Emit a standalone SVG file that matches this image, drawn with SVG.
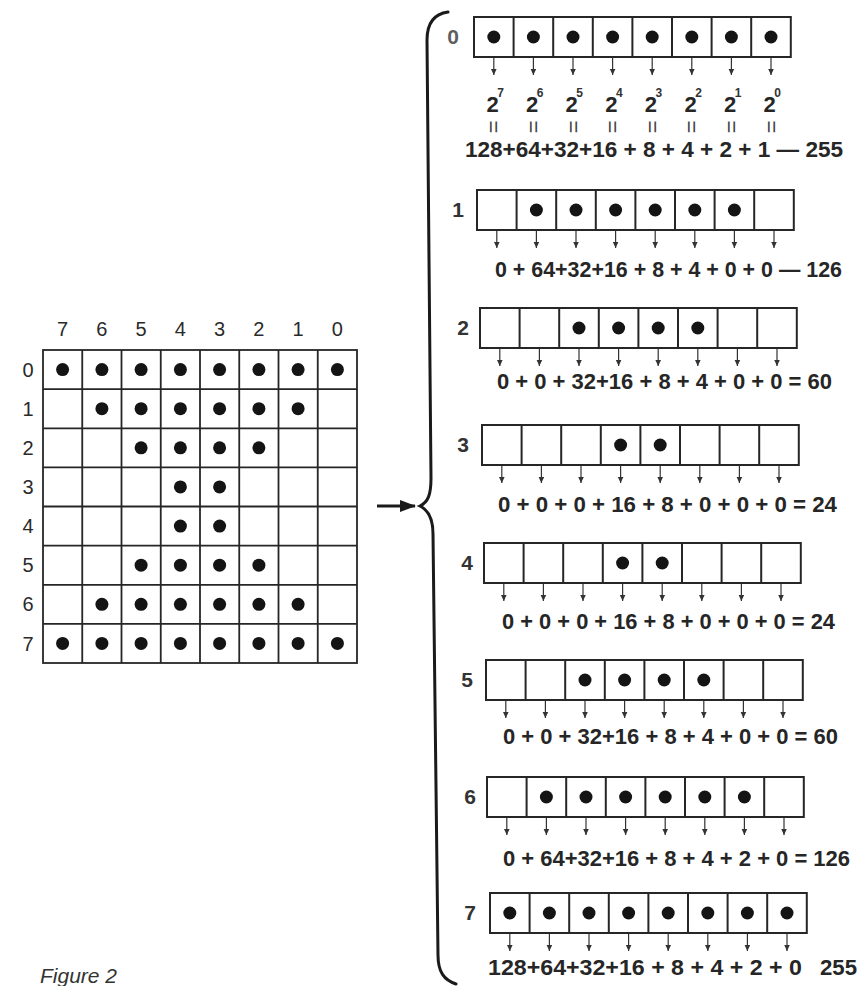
<svg xmlns="http://www.w3.org/2000/svg" width="859" height="986" viewBox="0 0 859 986">
<style>
.ln{stroke:#262626;stroke-width:1.8;fill:none}
.bx{stroke:#262626;stroke-width:2;fill:none}
.lbl{font-family:"Liberation Sans",Arial,sans-serif;font-size:20px;fill:#2a2a2a;text-anchor:middle}
.rl{font-family:"Liberation Sans",Arial,sans-serif;font-size:21px;font-weight:bold;fill:#333;text-anchor:middle}
.sum{font-family:"Liberation Sans",Arial,sans-serif;font-size:22px;font-weight:bold;fill:#262626}
.pw{font-family:"Liberation Sans",Arial,sans-serif;font-size:22px;font-weight:bold;fill:#262626;text-anchor:middle}
.sup{font-family:"Liberation Sans",Arial,sans-serif;font-size:12px;font-weight:bold;fill:#333;text-anchor:middle}
.eq{font-family:"Liberation Sans",Arial,sans-serif;font-size:22px;fill:#444;text-anchor:middle;dominant-baseline:central}
.arr{stroke:#333;stroke-width:1.2;fill:none;marker-end:url(#ah)}
.brace{stroke:#1a1a1a;stroke-width:3;fill:none;stroke-linecap:round}
.cap{font-family:"Liberation Sans",Arial,sans-serif;font-size:21px;font-style:italic;fill:#333}
</style>
<defs>
<marker id="ah" markerUnits="userSpaceOnUse" markerWidth="8" markerHeight="8" refX="6" refY="4" orient="auto"><path d="M0 1.2L6 4L0 6.8Z" fill="#333"/></marker>
<marker id="bah" markerUnits="userSpaceOnUse" markerWidth="18" markerHeight="14" refX="15" refY="7" orient="auto"><path d="M0 1L16 7L0 13Z" fill="#1a1a1a"/></marker>
<circle id="dot" r="6.5" fill="#141414"/>
<g id="box"><rect x="0" y="0" width="316.8" height="40" class="bx"/><path class="bx" d="M39.6 0V40M79.2 0V40M118.8 0V40M158.4 0V40M198 0V40M237.6 0V40M277.2 0V40"/></g>
<g id="arrows8"><path class="arr" d="M19.8 41V58"/><path class="arr" d="M59.4 41V58"/><path class="arr" d="M99 41V58"/><path class="arr" d="M138.6 41V58"/><path class="arr" d="M178.2 41V58"/><path class="arr" d="M217.8 41V58"/><path class="arr" d="M257.4 41V58"/><path class="arr" d="M297 41V58"/></g>
</defs>
<rect width="859" height="986" fill="#ffffff"/>

<g id="matrix">
<g id="matrix-labels">
<text class="lbl" x="62.6" y="336">7</text><text class="lbl" x="101.9" y="336">6</text><text class="lbl" x="141.1" y="336">5</text><text class="lbl" x="180.4" y="336">4</text><text class="lbl" x="219.6" y="336">3</text><text class="lbl" x="258.9" y="336">2</text><text class="lbl" x="298.1" y="336">1</text><text class="lbl" x="337.4" y="336">0</text>
<text class="lbl" x="28" y="377">0</text><text class="lbl" x="28" y="416">1</text><text class="lbl" x="28" y="455">2</text><text class="lbl" x="28" y="494">3</text><text class="lbl" x="28" y="533">4</text><text class="lbl" x="28" y="572">5</text><text class="lbl" x="28" y="611">6</text><text class="lbl" x="28" y="651">7</text>
</g>
<rect class="ln" x="43" y="350" width="314" height="313"/>
<path class="ln" d="M82.25 350V663M121.5 350V663M160.75 350V663M200 350V663M239.25 350V663M278.5 350V663M317.75 350V663M43 389.1H357M43 428.3H357M43 467.4H357M43 506.5H357M43 545.6H357M43 584.8H357M43 623.9H357"/>
<g id="matrix-dots">
<use href="#dot" x="62.6" y="369.6"/><use href="#dot" x="101.9" y="369.6"/><use href="#dot" x="141.1" y="369.6"/><use href="#dot" x="180.4" y="369.6"/><use href="#dot" x="219.6" y="369.6"/><use href="#dot" x="258.9" y="369.6"/><use href="#dot" x="298.1" y="369.6"/><use href="#dot" x="337.4" y="369.6"/>
<use href="#dot" x="101.9" y="408.7"/><use href="#dot" x="141.1" y="408.7"/><use href="#dot" x="180.4" y="408.7"/><use href="#dot" x="219.6" y="408.7"/><use href="#dot" x="258.9" y="408.7"/><use href="#dot" x="298.1" y="408.7"/>
<use href="#dot" x="141.1" y="447.8"/><use href="#dot" x="180.4" y="447.8"/><use href="#dot" x="219.6" y="447.8"/><use href="#dot" x="258.9" y="447.8"/>
<use href="#dot" x="180.4" y="486.9"/><use href="#dot" x="219.6" y="486.9"/>
<use href="#dot" x="180.4" y="526.1"/><use href="#dot" x="219.6" y="526.1"/>
<use href="#dot" x="141.1" y="565.2"/><use href="#dot" x="180.4" y="565.2"/><use href="#dot" x="219.6" y="565.2"/><use href="#dot" x="258.9" y="565.2"/>
<use href="#dot" x="101.9" y="604.3"/><use href="#dot" x="141.1" y="604.3"/><use href="#dot" x="180.4" y="604.3"/><use href="#dot" x="219.6" y="604.3"/><use href="#dot" x="258.9" y="604.3"/><use href="#dot" x="298.1" y="604.3"/>
<use href="#dot" x="62.6" y="643.4"/><use href="#dot" x="101.9" y="643.4"/><use href="#dot" x="141.1" y="643.4"/><use href="#dot" x="180.4" y="643.4"/><use href="#dot" x="219.6" y="643.4"/><use href="#dot" x="258.9" y="643.4"/><use href="#dot" x="298.1" y="643.4"/><use href="#dot" x="337.4" y="643.4"/>
</g>
</g>

<g id="row0" transform="translate(474,17)">
<text class="rl" x="-21" y="27" fill-opacity="0.8">0</text>
<use href="#box"/>
<use href="#dot" x="19.8" y="20"/><use href="#dot" x="59.4" y="20"/><use href="#dot" x="99" y="20"/><use href="#dot" x="138.6" y="20"/><use href="#dot" x="178.2" y="20"/><use href="#dot" x="217.8" y="20"/><use href="#dot" x="257.4" y="20"/><use href="#dot" x="297" y="20"/>
</g>
<g id="row0-powers">
<text class="pw" x="492.5" y="112">2</text><text class="sup" x="500.5" y="97">7</text>
<text class="pw" x="532.1" y="112">2</text><text class="sup" x="540.1" y="97">6</text>
<text class="pw" x="571.7" y="112">2</text><text class="sup" x="579.7" y="97">5</text>
<text class="pw" x="611.3" y="112">2</text><text class="sup" x="619.3" y="97">4</text>
<text class="pw" x="650.9" y="112">2</text><text class="sup" x="658.9" y="97">3</text>
<text class="pw" x="690.5" y="112">2</text><text class="sup" x="698.5" y="97">2</text>
<text class="pw" x="730.1" y="112">2</text><text class="sup" x="738.1" y="97">1</text>
<text class="pw" x="769.7" y="112">2</text><text class="sup" x="777.7" y="97">0</text>
<text class="eq" transform="translate(493.8,127) rotate(90)">=</text>
<text class="eq" transform="translate(533.4,127) rotate(90)">=</text>
<text class="eq" transform="translate(573,127) rotate(90)">=</text>
<text class="eq" transform="translate(612.6,127) rotate(90)">=</text>
<text class="eq" transform="translate(652.2,127) rotate(90)">=</text>
<text class="eq" transform="translate(691.8,127) rotate(90)">=</text>
<text class="eq" transform="translate(731.4,127) rotate(90)">=</text>
<text class="eq" transform="translate(771,127) rotate(90)">=</text>
</g>
<text class="sum" x="465" y="157" textLength="378" lengthAdjust="spacingAndGlyphs">128+64+32+16 + 8 + 4 + 2 + 1 — 255</text>

<g id="row1" transform="translate(477,190)">
<text class="rl" x="-19" y="27">1</text>
<use href="#box"/>
<use href="#dot" x="59.4" y="20"/><use href="#dot" x="99" y="20"/><use href="#dot" x="138.6" y="20"/><use href="#dot" x="178.2" y="20"/><use href="#dot" x="217.8" y="20"/><use href="#dot" x="257.4" y="20"/>
</g>
<text class="sum" x="495" y="277" textLength="347" lengthAdjust="spacingAndGlyphs">0 + 64+32+16 + 8 + 4 + 0 + 0 — 126</text>

<g id="row2" transform="translate(480,308)">
<text class="rl" x="-17" y="27">2</text>
<use href="#box"/>
<use href="#dot" x="99" y="20"/><use href="#dot" x="138.6" y="20"/><use href="#dot" x="178.2" y="20"/><use href="#dot" x="217.8" y="20"/>
</g>
<text class="sum" x="497" y="389" textLength="335" lengthAdjust="spacingAndGlyphs">0 + 0 + 32+16 + 8 + 4 + 0 + 0 = 60</text>

<g id="row3" transform="translate(482,425)">
<text class="rl" x="-19" y="27">3</text>
<use href="#box"/>
<use href="#dot" x="138.6" y="20"/><use href="#dot" x="178.2" y="20"/>
</g>
<text class="sum" x="498" y="512" textLength="339" lengthAdjust="spacingAndGlyphs">0 + 0 + 0 + 16 + 8 + 0 + 0 + 0 = 24</text>

<g id="row4" transform="translate(484,543)">
<text class="rl" x="-17" y="27">4</text>
<use href="#box"/>
<use href="#dot" x="138.6" y="20"/><use href="#dot" x="178.2" y="20"/>
</g>
<text class="sum" x="502" y="629" textLength="333" lengthAdjust="spacingAndGlyphs">0 + 0 + 0 + 16 + 8 + 0 + 0 + 0 = 24</text>

<g id="row5" transform="translate(486,660)">
<text class="rl" x="-19" y="27">5</text>
<use href="#box"/>
<use href="#dot" x="99" y="20"/><use href="#dot" x="138.6" y="20"/><use href="#dot" x="178.2" y="20"/><use href="#dot" x="217.8" y="20"/>
</g>
<text class="sum" x="503" y="744" textLength="335" lengthAdjust="spacingAndGlyphs">0 + 0 + 32+16 + 8 + 4 + 0 + 0 = 60</text>

<g id="row6" transform="translate(487,777)">
<text class="rl" x="-17" y="27">6</text>
<use href="#box"/>
<use href="#dot" x="59.4" y="20"/><use href="#dot" x="99" y="20"/><use href="#dot" x="138.6" y="20"/><use href="#dot" x="178.2" y="20"/><use href="#dot" x="217.8" y="20"/><use href="#dot" x="257.4" y="20"/>
</g>
<text class="sum" x="503" y="866" textLength="347" lengthAdjust="spacingAndGlyphs">0 + 64+32+16 + 8 + 4 + 2 + 0 = 126</text>

<g id="row7" transform="translate(490,893)">
<text class="rl" x="-20" y="27">7</text>
<use href="#box"/>
<use href="#dot" x="19.8" y="20"/><use href="#dot" x="59.4" y="20"/><use href="#dot" x="99" y="20"/><use href="#dot" x="138.6" y="20"/><use href="#dot" x="178.2" y="20"/><use href="#dot" x="217.8" y="20"/><use href="#dot" x="257.4" y="20"/><use href="#dot" x="297" y="20"/>
</g>
<text class="sum" x="488" y="975" textLength="314" lengthAdjust="spacingAndGlyphs">128+64+32+16 + 8 + 4 + 2 + 0</text>
<text class="sum" x="820" y="975" textLength="37" lengthAdjust="spacingAndGlyphs">255</text>

<g id="connectors">
<use href="#arrows8" x="474" y="17"/>
<use href="#arrows8" x="477" y="190"/>
<use href="#arrows8" x="480" y="308"/>
<use href="#arrows8" x="482" y="425"/>
<use href="#arrows8" x="484" y="543"/>
<use href="#arrows8" x="486" y="660"/>
<use href="#arrows8" x="487" y="777"/>
<use href="#arrows8" x="490" y="893"/>
<path d="M377 506H415" stroke="#1a1a1a" stroke-width="3" marker-end="url(#bah)"/>
<path class="brace" d="M448 12C433 14 427 24 427 40L431 478C431 495 428 502 420 506C428 510 433 518 433 534L438 955C438 972 444 980 456 984"/>
</g>

<text class="cap" x="40" y="983">Figure 2</text>
</svg>
